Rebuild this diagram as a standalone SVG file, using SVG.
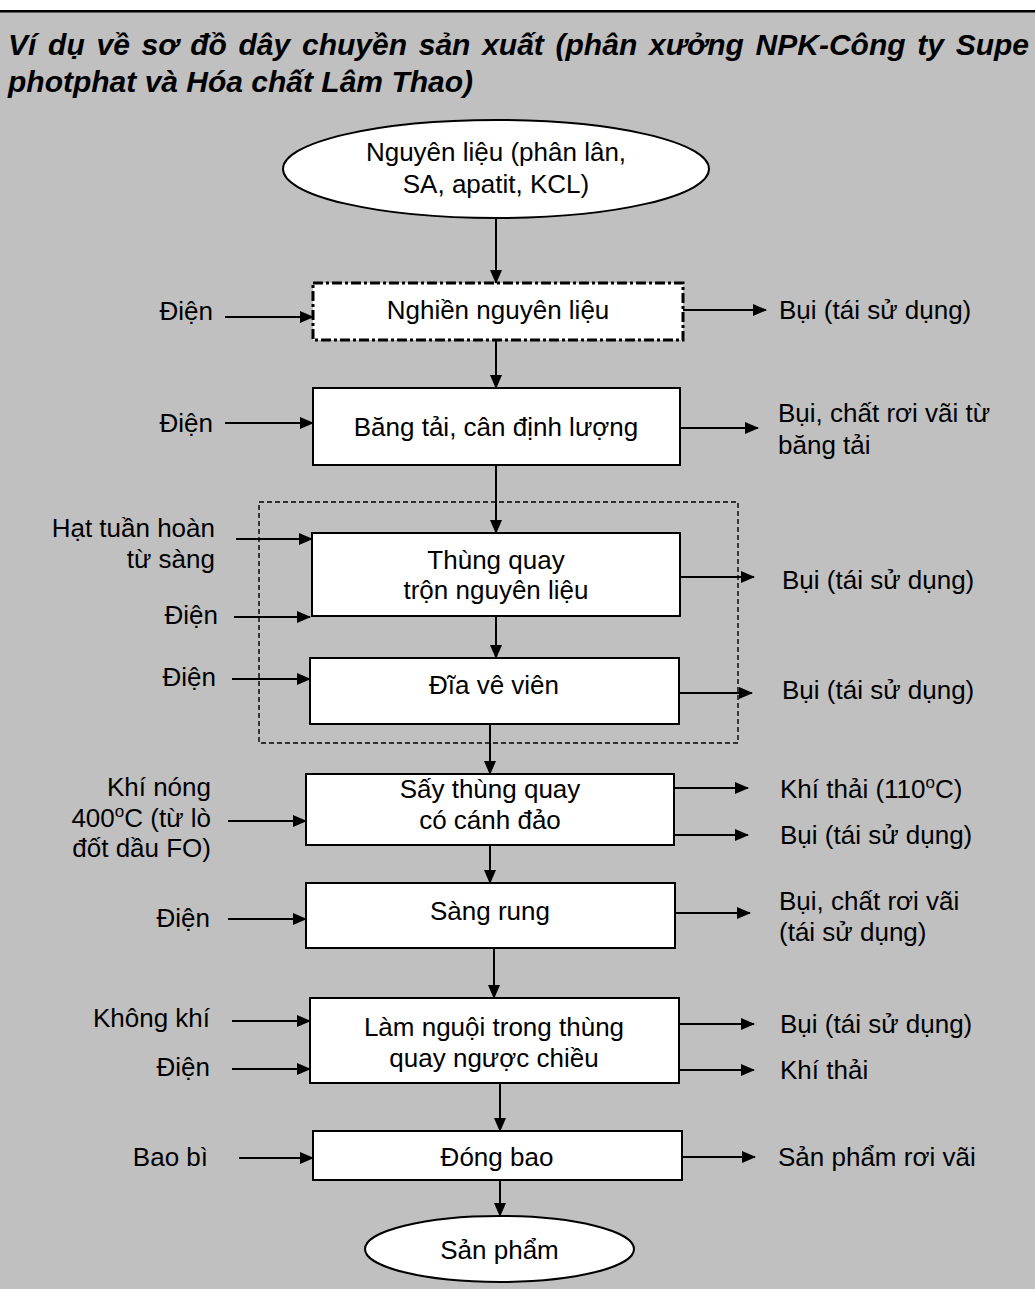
<svg xmlns="http://www.w3.org/2000/svg" width="1035" height="1289" viewBox="0 0 1035 1289">
<defs>
<style>
text{font-family:"Liberation Sans",Arial,sans-serif;font-size:26px;fill:#000}
.title{font-size:30px;font-weight:bold;font-style:italic}
.c{text-anchor:middle}
.e{text-anchor:end}
.box{fill:#fff;stroke:#000;stroke-width:2}
.conn line{stroke:#000;stroke-width:2;marker-end:url(#ah)}
.sup{font-size:17px}
</style>
<marker id="ah" markerWidth="14" markerHeight="12" refX="13" refY="6" orient="auto" markerUnits="userSpaceOnUse"><path d="M0,0L14,6L0,12z" fill="#000"/></marker>
</defs>
<rect x="0" y="0" width="1035" height="1289" fill="#c0c0c0"/>
<rect x="0" y="0" width="1035" height="10" fill="#fff"/>
<rect x="0" y="10" width="1035" height="2.5" fill="#000"/>
<g id="title">
<text class="title" x="8" y="55" word-spacing="3.4">Ví dụ về sơ đồ dây chuyền sản xuất (phân xưởng NPK-Công ty Supe</text>
<text class="title" x="8" y="92">photphat và Hóa chất Lâm Thao)</text>
</g>
<g id="group-frame"><rect x="259" y="502" width="479" height="241" fill="none" stroke="#000" stroke-width="1.4" stroke-dasharray="5 3"/></g>
<g id="n-input">
<ellipse class="box" cx="496" cy="169" rx="213" ry="49"/>
<text class="c" x="496" y="161">Nguyên liệu (phân lân,</text>
<text class="c" x="496" y="193">SA, apatit, KCL)</text>
</g>
<g id="n-grind">
<rect x="313" y="283" width="370" height="57" fill="#fff" stroke="#000" stroke-width="3" stroke-dasharray="10 3 3 3"/>
<text class="c" x="498" y="319">Nghiền nguyên liệu</text>
</g>
<g id="n-belt">
<rect class="box" x="313" y="388" width="367" height="77"/>
<text class="c" x="496" y="436">Băng tải, cân định lượng</text>
</g>
<g id="n-mix">
<rect class="box" x="312" y="533" width="368" height="83"/>
<text class="c" x="496" y="569">Thùng quay</text>
<text class="c" x="496" y="599">trộn nguyên liệu</text>
</g>
<g id="n-disc">
<rect class="box" x="310" y="658" width="369" height="66"/>
<text class="c" x="494" y="694">Đĩa vê viên</text>
</g>
<g id="n-dry">
<rect class="box" x="306" y="774" width="368" height="71"/>
<text class="c" x="490" y="798">Sấy thùng quay</text>
<text class="c" x="490" y="829">có cánh đảo</text>
</g>
<g id="n-screen">
<rect class="box" x="306" y="883" width="369" height="65"/>
<text class="c" x="490" y="920">Sàng rung</text>
</g>
<g id="n-cool">
<rect class="box" x="310" y="998" width="369" height="85"/>
<text class="c" x="494" y="1036">Làm nguội trong thùng</text>
<text class="c" x="494" y="1067">quay ngược chiều</text>
</g>
<g id="n-bag">
<rect class="box" x="313" y="1131" width="369" height="49"/>
<text class="c" x="497" y="1166">Đóng bao</text>
</g>
<g id="n-product">
<ellipse class="box" cx="499.5" cy="1249" rx="134.5" ry="33"/>
<text class="c" x="499.5" y="1259">Sản phẩm</text>
</g>
<g id="labels">
<text class="e" x="213" y="320">Điện</text>
<text x="779" y="319">Bụi (tái sử dụng)</text>
<text class="e" x="213" y="432">Điện</text>
<text x="778" y="422">Bụi, chất rơi vãi từ</text>
<text x="778" y="454">băng tải</text>
<text class="e" x="215" y="537">Hạt tuần hoàn</text>
<text class="e" x="215" y="568">từ sàng</text>
<text class="e" x="218" y="624">Điện</text>
<text x="782" y="589">Bụi (tái sử dụng)</text>
<text class="e" x="216" y="686">Điện</text>
<text x="782" y="699">Bụi (tái sử dụng)</text>
<text class="e" x="211" y="796">Khí nóng</text>
<text class="e" x="211" y="827">400<tspan class="sup" dy="-10">o</tspan><tspan dy="10">C (từ lò</tspan></text>
<text class="e" x="211" y="857">đốt dầu FO)</text>
<text x="780" y="798">Khí thải (110<tspan class="sup" dy="-10">o</tspan><tspan dy="10">C)</tspan></text>
<text x="780" y="844">Bụi (tái sử dụng)</text>
<text class="e" x="210" y="927">Điện</text>
<text x="779" y="910">Bụi, chất rơi vãi</text>
<text x="779" y="941">(tái sử dụng)</text>
<text class="e" x="210" y="1027">Không khí</text>
<text class="e" x="210" y="1076">Điện</text>
<text x="780" y="1033">Bụi (tái sử dụng)</text>
<text x="780" y="1079">Khí thải</text>
<text class="e" x="208" y="1166">Bao bì</text>
<text x="778" y="1166">Sản phẩm rơi vãi</text>
</g>
<g id="connectors" class="conn">
<line x1="496" y1="219" x2="496" y2="283"/>
<line x1="496" y1="340" x2="496" y2="388"/>
<line x1="496" y1="465" x2="496" y2="533"/>
<line x1="496" y1="616" x2="496" y2="658"/>
<line x1="490" y1="724" x2="490" y2="774"/>
<line x1="490" y1="845" x2="490" y2="883"/>
<line x1="494" y1="948" x2="494" y2="998"/>
<line x1="500" y1="1083" x2="500" y2="1131"/>
<line x1="500" y1="1180" x2="500" y2="1216"/>
<line x1="225" y1="317" x2="313" y2="317"/>
<line x1="683" y1="310" x2="766" y2="310"/>
<line x1="225" y1="423" x2="313" y2="423"/>
<line x1="680" y1="428" x2="758" y2="428"/>
<line x1="236" y1="539" x2="312" y2="539"/>
<line x1="234" y1="617" x2="310" y2="617"/>
<line x1="680" y1="577" x2="754" y2="577"/>
<line x1="232" y1="679" x2="310" y2="679"/>
<line x1="679" y1="693" x2="752" y2="693"/>
<line x1="228" y1="821" x2="306" y2="821"/>
<line x1="674" y1="788" x2="748" y2="788"/>
<line x1="674" y1="835" x2="748" y2="835"/>
<line x1="228" y1="919" x2="306" y2="919"/>
<line x1="675" y1="913" x2="750" y2="913"/>
<line x1="232" y1="1021" x2="310" y2="1021"/>
<line x1="232" y1="1069" x2="310" y2="1069"/>
<line x1="679" y1="1024" x2="754" y2="1024"/>
<line x1="679" y1="1070" x2="754" y2="1070"/>
<line x1="239" y1="1158" x2="313" y2="1158"/>
<line x1="681" y1="1157" x2="755" y2="1157"/>
</g>
</svg>
